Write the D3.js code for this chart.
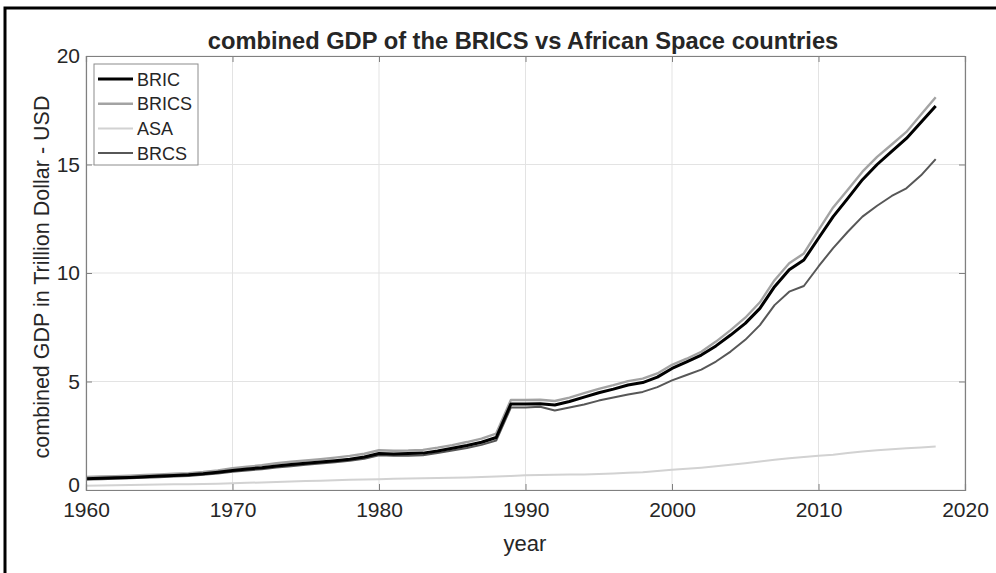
<!DOCTYPE html>
<html>
<head>
<meta charset="utf-8">
<script src="https://cdn.jsdelivr.net/npm/d3@7"></script>
<style>
  html, body { margin: 0; padding: 0; background: #fff; }
  svg { display: block; }
  text { font-family: "Liberation Sans", Arial, sans-serif; fill: #262626; }
</style>
</head>
<body>
<svg id="chart" width="996" height="573"></svg>
<script>
// Combined GDP (trillion USD), 1960-2018
const years = d3.range(1960, 2019);

const bric = [
  0.52, 0.54, 0.56, 0.58, 0.61, 0.64, 0.67, 0.70, 0.75, 0.82,
  0.90, 0.97, 1.03, 1.11, 1.17, 1.23, 1.29, 1.35, 1.42, 1.52,
  1.68, 1.66, 1.68, 1.70, 1.80, 1.92, 2.05, 2.20, 2.42, 3.96,
  3.96, 3.98, 3.92, 4.08, 4.28, 4.48, 4.65, 4.84, 4.95, 5.20,
  5.60, 5.90, 6.22, 6.64, 7.14, 7.68, 8.37, 9.37, 10.15, 10.60,
  11.60, 12.60, 13.44, 14.30, 15.00, 15.60, 16.20, 16.95, 17.70
];

const brics = [
  0.60, 0.62, 0.64, 0.66, 0.69, 0.72, 0.75, 0.78, 0.83, 0.90,
  1.00, 1.07, 1.14, 1.23, 1.30, 1.36, 1.42, 1.49, 1.57, 1.67,
  1.83, 1.81, 1.82, 1.85, 1.95, 2.07, 2.21, 2.37, 2.60, 4.15,
  4.15, 4.16, 4.10, 4.26, 4.46, 4.66, 4.83, 5.02, 5.13, 5.37,
  5.77, 6.05, 6.37, 6.84, 7.37, 7.94, 8.65, 9.67, 10.45, 10.90,
  11.98, 13.02, 13.84, 14.67, 15.35, 15.92, 16.50, 17.30, 18.10
];

const asa = [
  0.20, 0.21, 0.22, 0.23, 0.24, 0.25, 0.26, 0.27, 0.28, 0.29,
  0.31, 0.33, 0.35, 0.37, 0.39, 0.41, 0.43, 0.45, 0.47, 0.48,
  0.50, 0.52, 0.53, 0.54, 0.55, 0.56, 0.58, 0.60, 0.62, 0.65,
  0.68, 0.69, 0.70, 0.71, 0.72, 0.74, 0.76, 0.79, 0.82, 0.87,
  0.93, 0.98, 1.03, 1.09, 1.16, 1.23, 1.31, 1.39, 1.46, 1.52,
  1.58, 1.62, 1.70, 1.77, 1.83, 1.88, 1.92, 1.96, 2.00
];

const brcs = [
  0.48, 0.50, 0.52, 0.54, 0.56, 0.59, 0.62, 0.65, 0.70, 0.76,
  0.84, 0.90, 0.96, 1.04, 1.10, 1.16, 1.22, 1.28, 1.35, 1.44,
  1.60, 1.58, 1.58, 1.60, 1.70, 1.82, 1.94, 2.08, 2.28, 3.80,
  3.80, 3.84, 3.66, 3.80, 3.94, 4.12, 4.26, 4.40, 4.52, 4.74,
  5.05, 5.30, 5.55, 5.92, 6.38, 6.92, 7.60, 8.52, 9.14, 9.40,
  10.30, 11.15, 11.90, 12.60, 13.10, 13.55, 13.90, 14.50, 15.25
];

const seriesNames = ["BRIC", "BRICS", "ASA", "BRCS"];
const seriesValues = [bric, brics, asa, brcs];
const seriesColors = ["#000000", "#a3a3a3", "#d2d2d2", "#575757"];
const seriesWidths = [3, 2.4, 2, 2];

const xTicks = [1960, 1970, 1980, 1990, 2000, 2010, 2020];
const yTicks = [0, 5, 10, 15, 20];

const titleText = "combined GDP of the BRICS vs African Space countries";
const xLabel = "year";
const yLabel = "combined GDP in Trillion Dollar - USD";

const svg = d3.select("#chart");
const m = { left: 86, right: 965, top: 56, bottom: 490 };

// outer frame
svg.append("path")
  .attr("d", "M5,580 L5,8 L1000,8")
  .attr("fill", "none").attr("stroke", "#000").attr("stroke-width", 3);

const x = d3.scaleLinear().domain([1960, 2020]).range([m.left, m.right]);
const y = d3.scaleLinear().domain([0, 20]).range([m.bottom, m.top]);

// grid
const grid = svg.append("g");
grid.selectAll("line.gx").data(xTicks).join("line")
  .attr("x1", d => x(d)).attr("x2", d => x(d))
  .attr("y1", m.top).attr("y2", m.bottom)
  .attr("stroke", "#e3e3e3").attr("stroke-width", 1);
grid.selectAll("line.gy").data(yTicks).join("line")
  .attr("x1", m.left).attr("x2", m.right)
  .attr("y1", d => y(d)).attr("y2", d => y(d))
  .attr("stroke", "#e3e3e3").attr("stroke-width", 1);

// lines
const line = d3.line().x((d, i) => x(years[i])).y(d => y(d));
const order = [2, 3, 1, 0];
order.forEach(k => {
  svg.append("path")
    .datum(seriesValues[k])
    .attr("fill", "none")
    .attr("stroke", seriesColors[k])
    .attr("stroke-width", seriesWidths[k])
    .attr("stroke-linejoin", "round")
    .attr("d", line);
});

// axes (ticks pointing inward, on all four sides)
const axisColor = "#808080";
const bottomAxis = d3.axisBottom(x).tickValues(xTicks).tickSize(-6).tickFormat(d3.format("d")).tickPadding(12);
const leftAxis = d3.axisLeft(y).tickValues(yTicks).tickSize(-6).tickPadding(6);
const topAxis = d3.axisTop(x).tickValues(xTicks).tickSize(-6).tickFormat("");
const rightAxis = d3.axisRight(y).tickValues(yTicks).tickSize(-6).tickFormat("");

function styleAxis(g) {
  g.select(".domain").attr("stroke", axisColor).attr("stroke-width", 1.2);
  g.selectAll(".tick line").attr("stroke", axisColor);
  g.selectAll(".tick text").attr("font-size", 21).attr("fill", "#262626")
    .attr("font-family", "Liberation Sans, Arial, sans-serif");
}

svg.append("g").attr("transform", `translate(0,${m.bottom})`).call(bottomAxis).call(styleAxis);
const yAxisG = svg.append("g").attr("transform", `translate(${m.left},0)`).call(leftAxis).call(styleAxis);
// lift the zero label a little so it clears the year labels below
yAxisG.selectAll(".tick text").filter(d => d === 0).attr("dy", "0.06em");
svg.append("g").attr("transform", `translate(0,${m.top})`).call(topAxis).call(styleAxis);
svg.append("g").attr("transform", `translate(${m.right},0)`).call(rightAxis).call(styleAxis);

// titles
svg.append("text")
  .attr("x", 523).attr("y", 49)
  .attr("text-anchor", "middle").attr("font-size", 23.7).attr("font-weight", "bold")
  .attr("fill", "#000")
  .text(titleText);

svg.append("text")
  .attr("x", 525).attr("y", 551)
  .attr("text-anchor", "middle").attr("font-size", 22)
  .text(xLabel);

svg.append("text")
  .attr("transform", `translate(49,277) rotate(-90)`)
  .attr("text-anchor", "middle").attr("font-size", 21.5)
  .text(yLabel);

// legend
const lg = svg.append("g").attr("transform", "translate(94,64)");
lg.append("rect").attr("width", 104).attr("height", 101)
  .attr("fill", "#fff").attr("stroke", "#8c8c8c").attr("stroke-width", 1);
seriesNames.forEach((name, i) => {
  const yy = 15 + i * 24.7;
  lg.append("line").attr("x1", 4).attr("x2", 39).attr("y1", yy).attr("y2", yy)
    .attr("stroke", seriesColors[i]).attr("stroke-width", seriesWidths[i]);
  lg.append("text").attr("x", 43).attr("y", yy + 6.5).attr("font-size", 18)
    .attr("fill", "#000").text(name);
});
</script>
</body>
</html>
